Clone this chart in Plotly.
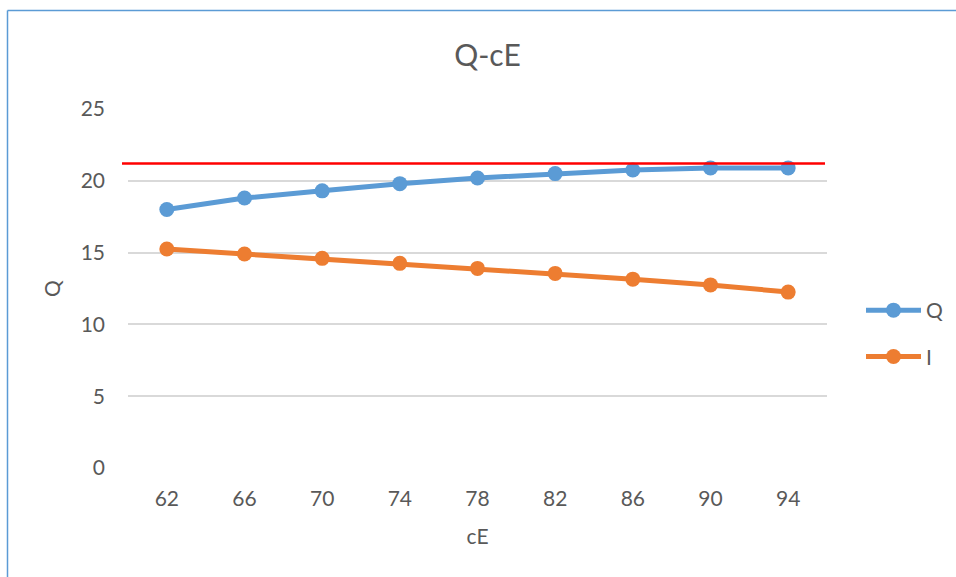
import plotly.graph_objects as go

# Data
ce_labels = ["62", "66", "70", "74", "78", "82", "86", "90", "94"]
q_values = [18.0, 18.8, 19.3, 19.8, 20.2, 20.5, 20.75, 20.9, 20.9]
i_values = [15.25, 14.9, 14.6, 14.25, 13.9, 13.55, 13.15, 12.75, 12.25]
q_limit = 21.2

W, H = 956, 577
L, R, T, B = 128, 129, 109, 109
PW = W - L - R
PH = H - T - B


def px_x(px):
    return (px - L) / PW


def px_y(py):
    return 1 - (py - T) / PH


FONT = "Lato, Open Sans, sans-serif"
TXT = "#595959"
BLUE = "#5B9BD5"
ORANGE = "#ED7D31"

fig = go.Figure()
fig.add_trace(go.Scatter(
    x=ce_labels, y=q_values, name="Q", mode="lines+markers",
    line=dict(color=BLUE, width=5), marker=dict(color=BLUE, size=15),
    legendgroup="q",
))
fig.add_trace(go.Scatter(
    x=ce_labels, y=i_values, name="I", mode="lines+markers",
    line=dict(color=ORANGE, width=5), marker=dict(color=ORANGE, size=15),
    legendgroup="i",
))

# Reference level line
fig.add_shape(type="line", xref="paper", yref="y",
              x0=px_x(122), x1=px_x(825), y0=q_limit, y1=q_limit,
              line=dict(color="#FF0000", width=2.5), layer="above")

# Chart frame (left and top edges)
fig.add_shape(type="line", xref="paper", yref="paper",
              x0=px_x(7.5), x1=px_x(7.5), y0=px_y(10.5), y1=px_y(H + 5),
              line=dict(color=BLUE, width=1.5))
fig.add_shape(type="line", xref="paper", yref="paper",
              x0=px_x(7.5), x1=px_x(W + 5), y0=px_y(10.5), y1=px_y(10.5),
              line=dict(color=BLUE, width=1.5))

fig.update_layout(
    width=W, height=H,
    margin=dict(l=L, r=R, t=T, b=B, autoexpand=False),
    paper_bgcolor="white", plot_bgcolor="white",
    font=dict(family=FONT, size=21, color=TXT),
    title=dict(text="Q-cE", x=487.5 / W, xanchor="center",
               y=1 - 55 / H, yanchor="middle",
               font=dict(family=FONT, size=30, color=TXT)),
    xaxis=dict(
        type="category", range=[-0.5, 8.5],
        showgrid=False, showline=False, zeroline=False,
        ticks="", ticklabelstandoff=16,
        tickfont=dict(family=FONT, size=21, color=TXT),
        title=dict(text="cE", standoff=20,
                   font=dict(family=FONT, size=21, color=TXT)),
    ),
    yaxis=dict(
        range=[0, 25], tickvals=[0, 5, 10, 15, 20, 25],
        showgrid=True, gridcolor="#D9D9D9", gridwidth=1.5,
        zeroline=False, showline=False,
        ticks="", ticklabelstandoff=22,
        tickfont=dict(family=FONT, size=21, color=TXT),
        title=dict(text="Q", standoff=14,
                   font=dict(family=FONT, size=21, color=TXT)),
    ),
    showlegend=True,
    legend=dict(
        x=px_x(861), y=px_y(290), xanchor="left", yanchor="top",
        font=dict(family=FONT, size=21, color=TXT),
        tracegroupgap=16, itemwidth=55,
        bgcolor="rgba(0,0,0,0)",
    ),
)

fig.write_html("out.html")
